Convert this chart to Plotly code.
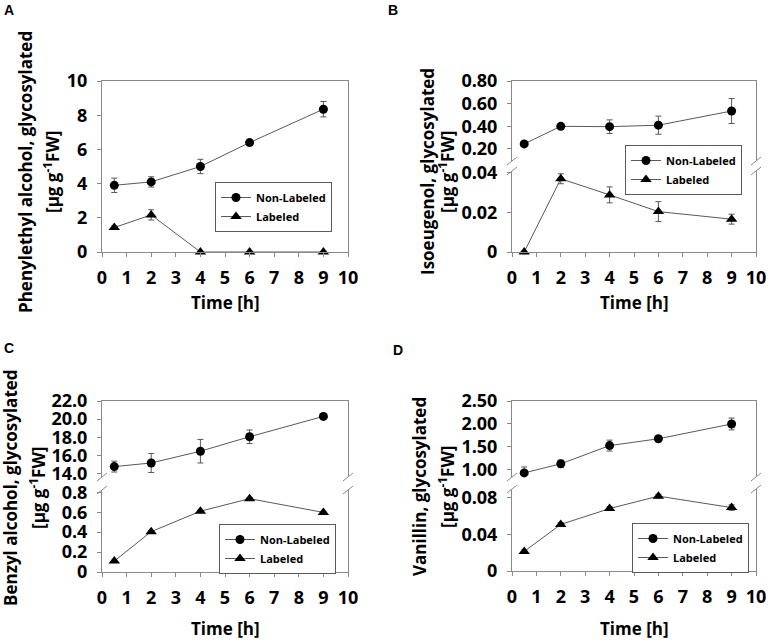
import plotly.graph_objects as go

W, H = 768, 640

# ---------------- data ----------------
time_h = [0.5, 2, 4, 6, 9]
x_tickvals = [0, 1, 2, 3, 4, 5, 6, 7, 8, 9, 10]
series_names = ["Non-Labeled", "Labeled"]

# Panel A  Phenylethyl alcohol
a_non = [3.9, 4.1, 5.0, 6.4, 8.35]
a_non_err = [0.42, 0.3, 0.42, 0.15, 0.45]
a_lab = [1.43, 2.17, 0.0, 0.0, 0.0]
a_lab_err = [0.1, 0.3, 0.0, 0.0, 0.0]
a_tickvals = [0, 2, 4, 6, 8, 10]
a_ticktext = ["0", "2", "4", "6", "8", "10"]

# Panel B  Isoeugenol (broken axis)
b_non = [0.245, 0.40, 0.397, 0.41, 0.535]
b_non_err = [0.012, 0.02, 0.06, 0.08, 0.11]
b_lab = [0.0, 0.0368, 0.0287, 0.0203, 0.0165]
b_lab_err = [0.0, 0.0025, 0.004, 0.005, 0.0025]
b_up_tickvals = [0.2, 0.4, 0.6, 0.8]
b_up_ticktext = ["0.20", "0.40", "0.60", "0.80"]
b_lo_tickvals = [0, 0.02, 0.04]
b_lo_ticktext = ["0", "0.02", "0.04"]

# Panel C  Benzyl alcohol (broken axis)
c_non = [14.75, 15.15, 16.45, 18.05, 20.3]
c_non_err = [0.6, 1.05, 1.3, 0.75, 0.12]
c_lab = [0.11, 0.405, 0.61, 0.736, 0.598]
c_lab_err = [0.008, 0.01, 0.01, 0.01, 0.01]
c_up_tickvals = [14, 16, 18, 20, 22]
c_up_ticktext = ["14.0", "16.0", "18.0", "20.0", "22.0"]
c_lo_tickvals = [0, 0.2, 0.4, 0.6, 0.8]
c_lo_ticktext = ["0", "0.2", "0.4", "0.6", "0.8"]

# Panel D  Vanillin (broken axis)
d_non = [0.92, 1.12, 1.52, 1.67, 1.995]
d_non_err = [0.13, 0.08, 0.12, 0.03, 0.13]
d_lab = [0.0214, 0.0509, 0.0682, 0.0818, 0.0693]
d_lab_err = [0.0015, 0.002, 0.002, 0.002, 0.003]
d_up_tickvals = [1.0, 1.5, 2.0, 2.5]
d_up_ticktext = ["1.00", "1.50", "2.00", "2.50"]
d_lo_tickvals = [0, 0.04, 0.08]
d_lo_ticktext = ["0", "0.04", "0.08"]

panel_letters = ["A", "B", "C", "D"]
y_title_line1 = ["Phenylethyl alcohol, glycosylated", "Isoeugenol, glycosylated",
                 "Benzyl alcohol, glycosylated", "Vanillin, glycosylated"]
y_title_line2 = "[μg g<sup>-1</sup>FW]"
x_title = "Time [h]"

# ---------------- styling helpers ----------------
FONT = "Open Sans"
GRAY = "#8a8a8a"
LINE_GRAY = "#595959"


def px(xp):
    return xp / W


def py(yp):
    return 1 - yp / H


tick_font = dict(family=FONT, size=18, color="black", weight="bold")


def xaxis_cfg(x0, x1, anchor, mirror):
    return dict(domain=[px(x0), px(x1)], anchor=anchor, range=[0, 10],
                tickvals=x_tickvals, ticktext=[str(v) for v in x_tickvals],
                showline=True, linecolor=GRAY, linewidth=1, mirror=mirror,
                ticks="outside", ticklen=4, tickcolor=GRAY, showgrid=False,
                zeroline=False, tickfont=tick_font, automargin=False,
                ticklabelstandoff=5)


def top_frame_cfg(x0, x1, anchor):
    return dict(domain=[px(x0), px(x1)], anchor=anchor, range=[0, 10], side="top",
                showline=True, linecolor=GRAY, linewidth=1, ticks="",
                showticklabels=False, showgrid=False, zeroline=False, automargin=False)


def yaxis_cfg(y_top, y_bot, anchor, rng, tv, tt):
    return dict(domain=[py(y_bot), py(y_top)], anchor=anchor, range=rng,
                tickvals=tv, ticktext=tt, showline=True, linecolor=GRAY, linewidth=1,
                mirror=True, ticks="outside", ticklen=4, tickcolor=GRAY,
                showgrid=False, zeroline=False, tickfont=tick_font, automargin=False,
                ticklabelstandoff=6)


fig = go.Figure()


def add_series(xa, ya, vals, errs, symbol, name, legend, size):
    fig.add_trace(go.Scatter(
        x=time_h, y=vals, xaxis=xa, yaxis=ya, name=name, legend=legend,
        mode="lines+markers", cliponaxis=False,
        line=dict(color=LINE_GRAY, width=1),
        marker=dict(symbol=symbol, size=size, color="black"),
        error_y=dict(type="data", array=errs, color=LINE_GRAY, thickness=1, width=3),
    ))


# Panel A
add_series("x", "y", a_non, a_non_err, "circle", series_names[0], "legend", 9)
add_series("x", "y", a_lab, a_lab_err, "triangle-up", series_names[1], "legend", 10)
# Panel B
add_series("x3", "y3", b_non, b_non_err, "circle", series_names[0], "legend2", 9)
add_series("x2", "y2", b_lab, b_lab_err, "triangle-up", series_names[1], "legend2", 10)
# Panel C
add_series("x5", "y5", c_non, c_non_err, "circle", series_names[0], "legend3", 9)
add_series("x4", "y4", c_lab, c_lab_err, "triangle-up", series_names[1], "legend3", 10)
# Panel D
add_series("x7", "y7", d_non, d_non_err, "circle", series_names[0], "legend4", 9)
add_series("x6", "y6", d_lab, d_lab_err, "triangle-up", series_names[1], "legend4", 10)

# panel geometry (pixels)
L_left, L_right = 102, 348
R_left, R_right = 512, 756

layout = dict(
    width=W, height=H, margin=dict(l=0, r=0, t=0, b=0),
    paper_bgcolor="white", plot_bgcolor="rgba(0,0,0,0)",
    font=dict(family=FONT, color="black"),
    # A
    xaxis=xaxis_cfg(L_left, L_right, "y", True),
    yaxis=yaxis_cfg(81, 252, "x", [0, 10], a_tickvals, a_ticktext),
    # B
    xaxis2=xaxis_cfg(R_left, R_right, "y2", False),
    yaxis2=yaxis_cfg(171, 252, "x2", [0, 0.0407], b_lo_tickvals, b_lo_ticktext),
    xaxis3=top_frame_cfg(R_left, R_right, "y3"),
    yaxis3=yaxis_cfg(81, 161, "x3", [0.094, 0.80], b_up_tickvals, b_up_ticktext),
    # C
    xaxis4=xaxis_cfg(L_left, L_right, "y4", False),
    yaxis4=yaxis_cfg(490, 572, "x4", [0, 0.823], c_lo_tickvals, c_lo_ticktext),
    xaxis5=top_frame_cfg(L_left, L_right, "y5"),
    yaxis5=yaxis_cfg(401, 477, "x5", [13.6, 22.0], c_up_tickvals, c_up_ticktext),
    # D
    xaxis6=xaxis_cfg(R_left, R_right, "y6", False),
    yaxis6=yaxis_cfg(489, 571, "x6", [0, 0.0896], d_lo_tickvals, d_lo_ticktext),
    xaxis7=top_frame_cfg(R_left, R_right, "y7"),
    yaxis7=yaxis_cfg(401, 477, "x7", [0.83, 2.5], d_up_tickvals, d_up_ticktext),
)

legend_font = dict(family=FONT, size=11, color="black", weight="bold")


def legend_cfg(x0, y0):
    return dict(x=px(x0), y=py(y0), xanchor="left", yanchor="top",
                bgcolor="white", bordercolor=LINE_GRAY, borderwidth=1,
                font=legend_font, traceorder="normal", itemwidth=30,
                tracegroupgap=0)


layout["legend"] = legend_cfg(215, 182)
layout["legend2"] = legend_cfg(625, 145)
layout["legend3"] = legend_cfg(219, 524)
layout["legend4"] = legend_cfg(632, 523)

fig.update_layout(**layout)

# annotations
title_font = dict(family=FONT, size=17, color="black", weight="bold")
letter_font = dict(family="Liberation Sans", size=14, color="black", weight="bold")

letter_pos = [(9, 10), (393, 10), (9, 348), (398, 350)]
ytitle_pos = [(25, 51, 172), (427, 446, 172), (10, 37, 488), (419, 446, 487)]
xtitle_pos = [(225, 302), (634, 302), (225, 628), (634, 628)]

for i in range(4):
    lx, ly = letter_pos[i]
    fig.add_annotation(x=px(lx), y=py(ly), xref="paper", yref="paper", text=panel_letters[i],
                       showarrow=False, font=letter_font, xanchor="center", yanchor="middle")
    x1, x2, yc = ytitle_pos[i]
    fig.add_annotation(x=px(x1), y=py(yc), xref="paper", yref="paper", text=y_title_line1[i],
                       showarrow=False, font=title_font, textangle=-90,
                       xanchor="center", yanchor="middle")
    fig.add_annotation(x=px(x2), y=py(yc), xref="paper", yref="paper", text=y_title_line2,
                       showarrow=False, font=title_font, textangle=-90,
                       xanchor="center", yanchor="middle")
    tx, ty = xtitle_pos[i]
    fig.add_annotation(x=px(tx), y=py(ty), xref="paper", yref="paper", text=x_title,
                       showarrow=False, font=title_font, xanchor="center", yanchor="middle")

# break marks (//) on broken axes
break_marks = [
    (R_left, 161, 171), (R_right, 161, 171),
    (L_left, 477, 490), (L_right, 477, 490),
    (R_left, 477, 489), (R_right, 477, 489),
]
for xb, y_up, y_lo in break_marks:
    for yb in (y_up, y_lo):
        fig.add_shape(type="line", xref="paper", yref="paper",
                      x0=px(xb - 5), y0=py(yb + 4), x1=px(xb + 5), y1=py(yb - 4),
                      line=dict(color=GRAY, width=1))

# remove the default 8px page margin so the figure sits at the window origin
fig.write_html("out.html", config={"displayModeBar": False},
               post_script="document.body.style.margin='0';document.body.style.overflow='hidden';")
